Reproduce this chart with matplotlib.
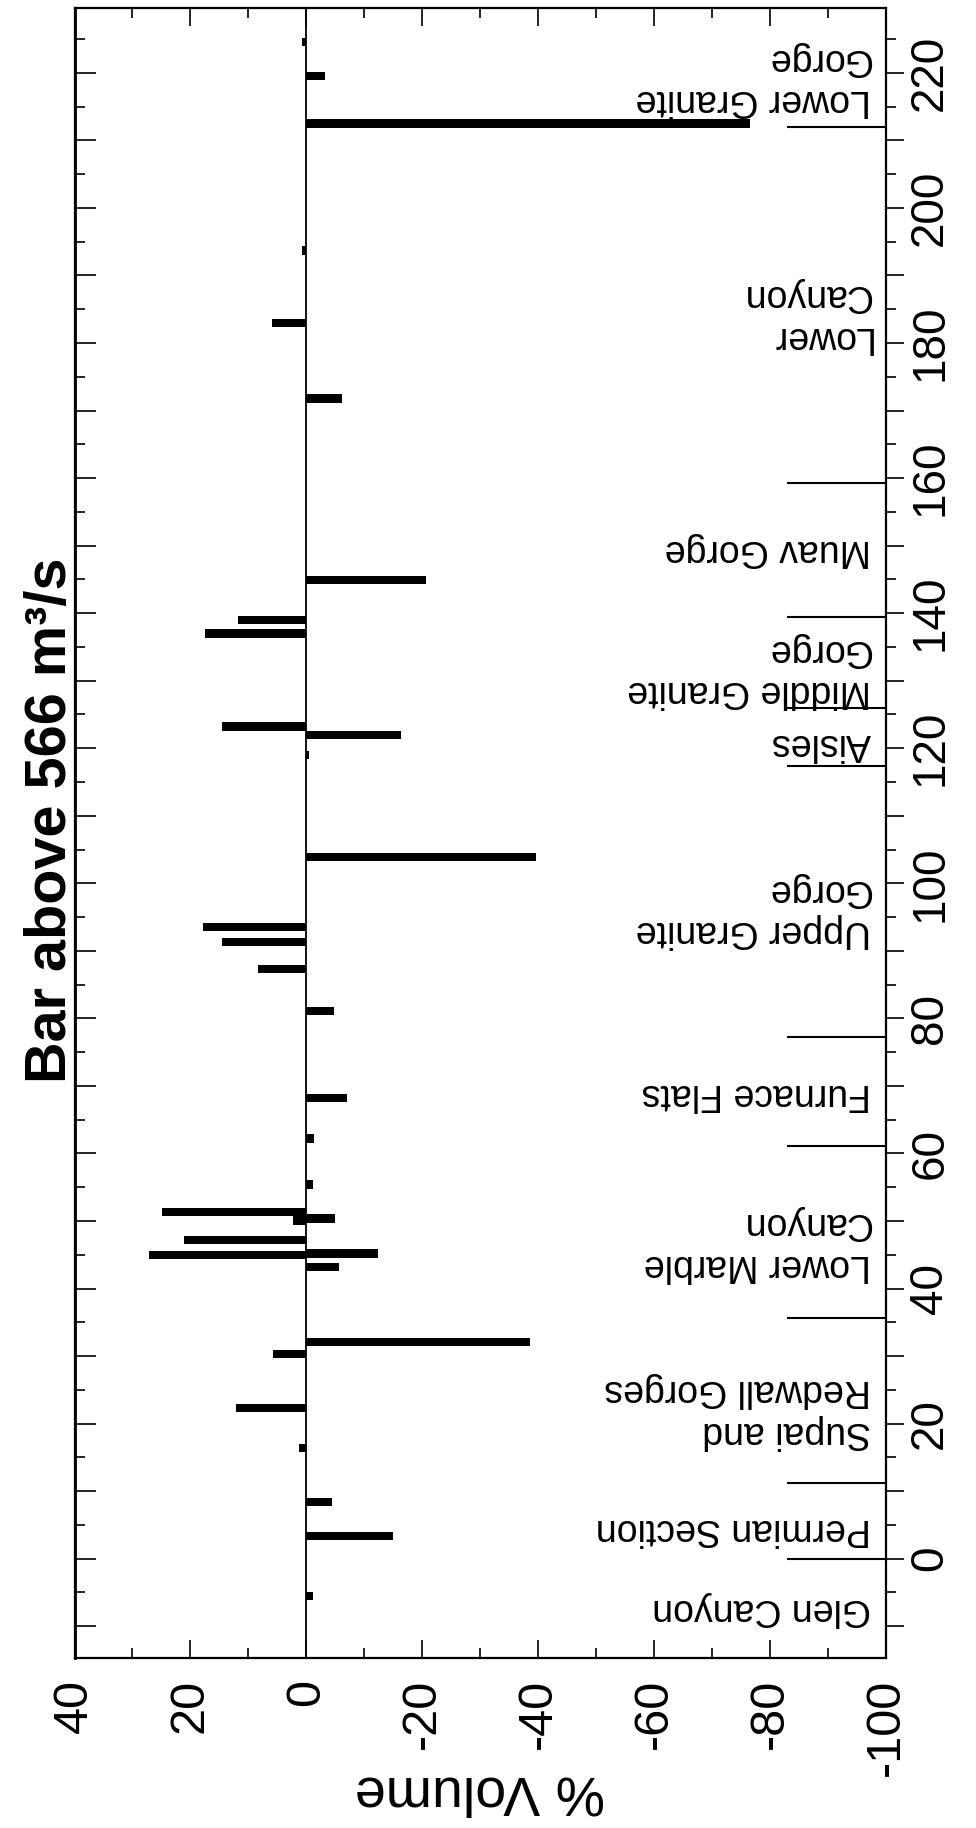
import matplotlib
matplotlib.use('Agg')
import matplotlib.pyplot as plt

plt.rcParams['font.family'] = ['Liberation Sans', 'DejaVu Sans']

# river mile of each bar and its % volume change
miles = [-5.5, 3.4, 8.4, 16.4, 22.3, 30.3, 32.1, 43.2, 45.0, 45.2, 47.2, 50.1, 50.4,
         51.3, 55.4, 62.2, 68.2, 81.1, 87.3, 91.3, 93.5, 103.9, 119.0, 122.0, 123.2,
         137.0, 139.0, 144.9, 171.8, 183.0, 193.7, 212.5, 219.5, 224.6]
pct = [-1.2, -15.0, -4.4, 1.2, 12.2, 5.7, -38.6, -5.7, 27.1, -12.4, 21.1, 2.3, -4.9,
       24.9, -1.2, -1.4, -7.0, -4.8, 8.4, 14.6, 17.9, -39.6, -0.4, -16.3, 14.5,
       17.4, 11.8, -20.7, -6.2, 6.0, 0.7, -76.5, -3.2, 0.8]

# reach boundaries and names
bounds = [0, 11.2, 35.6, 61.1, 77.3, 117.4, 125.9, 139.5, 159.3, 212.0]
reach_names = ['Glen Canyon', 'Permian Section', 'Supai and\nRedwall Gorges',
               'Lower Marble\nCanyon', 'Furnace Flats', 'Upper Granite\nGorge',
               'Aisles', 'Middle Granite\nGorge', 'Muav Gorge', 'Lower\nCanyon',
               'Lower Granite\nGorge']
reach_mid = [-7.4, 4.4, 21.9, 46.6, 68.8, 96.0, 120.6, 131.5, 149.3, 184.0, 219.0]

pct_ticks = [40, 20, 0, -20, -40, -60, -80, -100]
mile_ticks = list(range(-10, 230, 10))

fig = plt.figure(figsize=(9.76, 18.28), dpi=100)
ax = fig.add_axes([74.5 / 976, 1 - 1658 / 1828, 811.5 / 976, 1650 / 1828])

ax.barh(miles, pct, height=1.25, left=0, color='black')
ax.axvline(0, color='black', lw=1.3)
ax.hlines(bounds, -83, -100, color='black', lw=1.5)

for name, m in zip(reach_names, reach_mid):
    ax.text(-97.4, m, name, rotation=180, ha='right', va='center',
            multialignment='left', fontsize=27, linespacing=1.2)

ax.set_xlim(40, -100)
ax.set_ylim(-14.7, 229.6)

# % volume axis (bottom / top)
ax.set_xticks(pct_ticks)
ax.set_xticklabels([str(v) for v in pct_ticks], rotation=90, ha='center', va='top')
ax.set_xticks(range(-90, 40, 20), minor=True)
ax.tick_params(axis='x', which='both', direction='in', top=True, bottom=True,
               width=1.2, labelsize=35, pad=15)
ax.tick_params(axis='x', which='major', length=13)
ax.tick_params(axis='x', which='minor', length=7)

# river mile axis, labels on the right
ax.yaxis.tick_right()
ax.set_yticks(mile_ticks)
ax.set_yticklabels([str(v) if v % 20 == 0 else '' for v in mile_ticks],
                   rotation=90, ha='left', va='center')
ax.set_yticks(range(-5, 230, 10), minor=True)
ax.tick_params(axis='y', which='both', direction='out', width=1.2,
               labelsize=33, pad=3)
ax.tick_params(axis='y', which='major', length=13)
ax.tick_params(axis='y', which='minor', length=7)

# inward ticks on the left edge
ax_left = ax.secondary_yaxis('left')
ax_left.set_yticks(mile_ticks)
ax_left.set_yticklabels([])
ax_left.set_yticks(range(-5, 230, 10), minor=True)
ax_left.tick_params(axis='y', which='both', direction='in', width=1.2)
ax_left.tick_params(axis='y', which='major', length=15)
ax_left.tick_params(axis='y', which='minor', length=7)

for s in ax.spines.values():
    s.set_linewidth(1.6)
ax_left.spines['left'].set_linewidth(2.0)

fig.text(51 / 976, 1 - 820 / 1828, 'Bar above 566 m³/s', rotation=90,
         fontsize=41.5, fontweight='bold', ha='center', va='center')
fig.text(480 / 976, 1 - 1790 / 1828, '% Volume', rotation=180,
         fontsize=40, ha='center', va='center')

fig.savefig('out.png', dpi=100)
